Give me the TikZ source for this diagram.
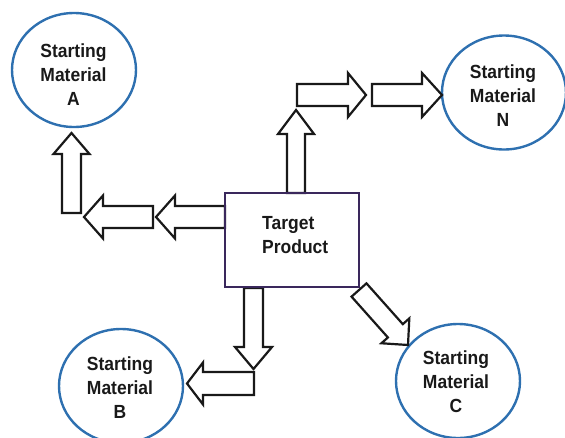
\documentclass[tikz,border=0pt]{standalone}
\usepackage{fontspec}
\newfontfamily\lblfont{Liberation Sans}[FakeStretch=0.92]
\usetikzlibrary{shapes.geometric,calc}
\definecolor{circblue}{RGB}{46,112,176}
\definecolor{boxpurple}{RGB}{58,40,92}
\tikzset{
  smat/.style={ellipse, draw=circblue, line width=2.4pt, minimum width=124pt, minimum height=114pt, inner sep=0pt},
  smtext/.style={align=center, font=\lblfont\bfseries\fontsize{19}{24}\selectfont, inner sep=0pt, text=black!90},
  tprod/.style={draw=boxpurple, line width=2pt, minimum width=134pt, minimum height=94pt, inner sep=0pt},
  barrowline/.style={draw=black!90, fill=white, line width=2.2pt, line join=miter}
}
\newcommand\blockarr[5]{%
  \coordinate (ba-b) at ($(#2)!#5pt!(#1)$);
  \draw[barrowline] ($(#1)!#3pt!90:(#2)$) -- ($(ba-b)!#3pt!90:(#2)$) -- ($(ba-b)!#4pt!90:(#2)$) -- (#2) -- ($(ba-b)!#4pt!-90:(#2)$) -- ($(ba-b)!#3pt!-90:(#2)$) -- ($(#1)!#3pt!-90:(#2)$) -- cycle;}
\begin{document}
\begin{tikzpicture}[x=1pt,y=-1pt]
\useasboundingbox (0,0) rectangle (565,437);
% starting materials
\node[smat] (sa) at (74,70) {};
\node[smat] (sn) at (504,92.5) {};
\node[smat] (sb) at (121,386) {};
\node[smat] (sc) at (458,381) {};
\node[smtext] (sat) at (73.5,75) {Starting\\Material\\A};
\node[smtext] (snt) at (503,95.5) {Starting\\Material\\N};
\node[smtext] (sbt) at (120,387.5) {Starting\\Material\\B};
\node[smtext] (sct) at (456,382) {Starting\\Material\\C};
% arrow end points
\coordinate (a1t) at (296,193);   \coordinate (a1h) at (296,110);
\coordinate (a2t) at (297,95);    \coordinate (a2h) at (366,95);
\coordinate (a3t) at (372,95);    \coordinate (a3h) at (442,95);
\coordinate (a4t) at (225,217);   \coordinate (a4h) at (156,217);
\coordinate (a5t) at (153,217);   \coordinate (a5h) at (84,217);
\coordinate (a6t) at (71.5,213);  \coordinate (a6h) at (71.5,133);
\coordinate (a7t) at (253.5,288); \coordinate (a7h) at (253.5,369);
\coordinate (a8t) at (254,383.5); \coordinate (a8h) at (187,383.5);
\coordinate (a9t) at (359,290);   \coordinate (a9h) at (408,345);
\blockarr{a1t}{a1h}{9}{18}{24}
\blockarr{a2t}{a2h}{11}{22}{18}
\blockarr{a3t}{a3h}{11}{22}{20}
\blockarr{a4t}{a4h}{11}{21.5}{19}
\blockarr{a5t}{a5h}{11}{21.5}{19}
\blockarr{a6t}{a6h}{9.5}{18}{21}
\blockarr{a7t}{a7h}{9.5}{18.5}{22}
\blockarr{a8t}{a8h}{11.5}{21}{16}
\blockarr{a9t}{a9h}{10}{18.7}{19}
% target product
\node[tprod] (tp) at (292,240) {};
\node[smtext, align=left, anchor=west] (tpt) at (262,235) {Target\\Product};
\end{tikzpicture}
\end{document}
